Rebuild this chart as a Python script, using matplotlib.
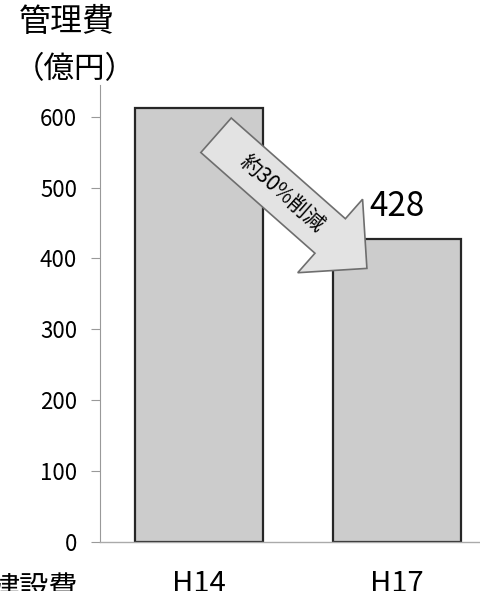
import numpy as np
import matplotlib
matplotlib.use("Agg")
import matplotlib.pyplot as plt
from matplotlib.patches import Polygon
from matplotlib.transforms import IdentityTransform

plt.rcParams['font.family'] = ['Noto Sans CJK JP', 'DejaVu Sans']

categories = ['H14', 'H17']
values = [613, 428]
yticks = [0, 100, 200, 300, 400, 500, 600]
label_value = '428'
arrow_text = '約30%削減'

# arrow anchors in data coordinates (tail centre, tip)
arrow_tail = (0.086, 574)
arrow_tip = (0.848, 386)

fig = plt.figure(figsize=(4.81, 5.91), dpi=100)
W, H = 481, 591
ax = fig.add_axes([100 / W, (H - 541.7) / H, 396 / W, (541.7 - 85) / H])

x = np.arange(len(categories))
ax.bar(x, values, width=0.65, color='#cccccc', edgecolor='#262626', linewidth=1.6, zorder=2)
ax.set_xlim(-0.5, 1.5)
ax.set_ylim(0, 645)
ax.set_yticks(yticks)
ax.set_xticks(x)
ax.set_xticklabels(categories, fontsize=21)
ax.tick_params(axis='x', length=0, pad=20)
ax.tick_params(axis='y', length=6.5, color='#999999', width=0.8, labelsize=16, pad=10)
for s in ['top', 'right']:
    ax.spines[s].set_visible(False)
ax.spines['left'].set_color('#999999')
ax.spines['left'].set_linewidth(0.8)
ax.spines['bottom'].set_color('#aaaaaa')
ax.spines['bottom'].set_linewidth(1.0)

ax.text(x[1], values[1] + 20, label_value, ha='center', va='bottom', fontsize=24)

# block arrow drawn in display pixels
p0 = ax.transData.transform(arrow_tail)
p1 = ax.transData.transform(arrow_tip)
d = p1 - p0
L = np.hypot(*d)
u = d / L
n = np.array([-u[1], u[0]])
sw, hw, hl = 46, 98, 49
base = p1 - u * hl
pts = [p0 + n * sw / 2, base + n * sw / 2, base + n * hw / 2, p1,
       base - n * hw / 2, base - n * sw / 2, p0 - n * sw / 2]
arrow = Polygon(pts, closed=True, facecolor='#e3e3e3', edgecolor='#6e6e6e',
                linewidth=1.2, transform=IdentityTransform(), zorder=5, clip_on=False)
fig.add_artist(arrow)
ang = np.degrees(np.arctan2(d[1], d[0]))
tc = p0 + d * 0.44
tx, ty = fig.transFigure.inverted().transform(tc)
fig.text(tx, ty, arrow_text, rotation=ang, rotation_mode='anchor',
         ha='center', va='center', fontsize=15, zorder=6)

fig.text(19 / W, 1 - 6 / H, '管理費', ha='left', va='top', fontsize=23)
fig.text(14 / W, 1 - 54 / H, '（億円）', ha='left', va='top', fontsize=22)
fig.text(-10 / W, 1 - 574 / H, '建設費', ha='left', va='top', fontsize=21)

fig.savefig('out.png', dpi=100)
